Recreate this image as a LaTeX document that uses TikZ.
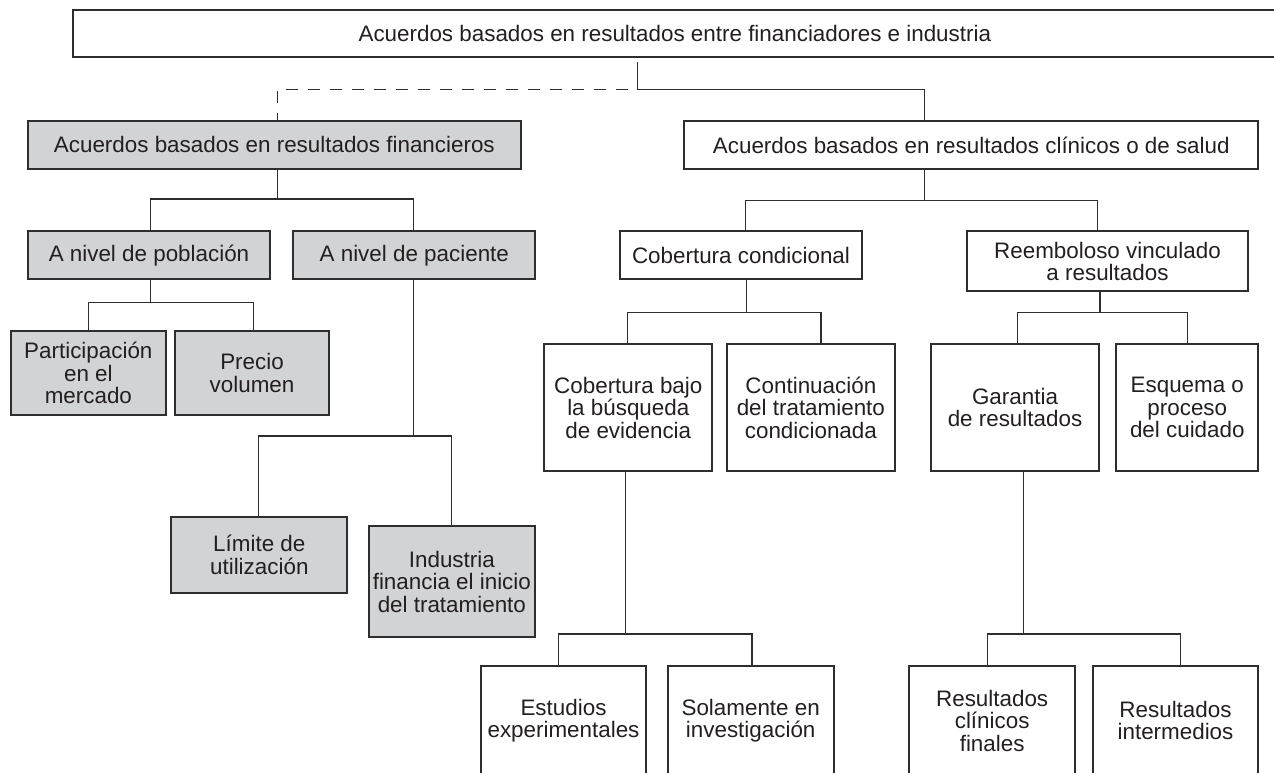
\documentclass[tikz,border=0pt]{standalone}
\usepackage{fontspec}
\setmainfont{Liberation Sans}
\usetikzlibrary{calc}
\definecolor{boxgray}{HTML}{D1D3D4}
\definecolor{ink}{HTML}{231F20}
\definecolor{linec}{HTML}{2E2E2E}
\begin{document}
\begin{tikzpicture}[x=1pt,y=-1pt,
  bx/.style={draw=linec, line width=1.8pt, rectangle, inner sep=0pt, align=center,
             text=ink, font=\fontsize{22.4}{22.5}\selectfont},
  gbx/.style={bx, fill=boxgray},
  wh/.style 2 args={minimum width=#1pt, minimum height=#2pt},
  ln/.style={draw=linec, line width=1.4pt}]
\useasboundingbox (0,0) rectangle (1274,772);
\clip (0,0) rectangle (1274,772);

% nodes
\node[bx, wh={1204.3}{47.3}] (top) at (674.85,33.65) {Acuerdos basados en resultados entre financiadores e industria};
\node[gbx, wh={492.7}{48}] (fin) at (274.35,144.7) {Acuerdos basados en resultados financieros};
\node[bx, wh={574}{48.6}] (clin) at (971.3,145) {Acuerdos basados en resultados clínicos o de salud};
\node[gbx, wh={242}{48}] (pob) at (149,255.3) {A nivel de población};
\node[gbx, wh={242}{48}] (pac) at (414.3,255.3) {A nivel de paciente};
\node[bx, wh={242}{48}] (cob) at (741,255.3) {Cobertura condicional};
\node[bx, wh={281.6}{60}] (reemb) at (1107.5,261.3) {Reemboloso vinculado\\a resultados};
\node[gbx, wh={154.7}{84.6}] (part) at (88.35,373) {Participación\\en el\\mercado};
\node[gbx, wh={154.6}{84.6}] (precio) at (252,373) {Precio\\volumen};
\node[bx, wh={168}{127.3}] (cobb) at (628.3,407.65) {Cobertura bajo\\la búsqueda\\de evidencia};
\node[bx, wh={168.3}{127.3}] (cont) at (810.85,407.65) {Continuación\\del tratamiento\\condicionada};
\node[bx, wh={168}{127.3}] (gar) at (1015,407.65) {Garantia\\de resultados};
\node[bx, wh={142}{127.3}] (esq) at (1187.3,407.65) {Esquema o\\proceso\\del cuidado};
\node[gbx, wh={176}{76.3}] (lim) at (259.3,554.85) {Límite de\\utilización};
\node[gbx, wh={166.3}{111}] (ind) at (451.85,581.8) {Industria\\financia el inicio\\del tratamiento};
\node[bx, wh={165.6}{109}] (est) at (563.5,720.5) {Estudios\\experimentales};
\node[bx, wh={166}{109}] (sol) at (750.7,720.5) {Solamente en\\investigación};
\node[bx, wh={165.7}{109}] (rcf) at (992.15,720.5) {Resultados\\clínicos\\finales};
\node[bx, wh={165.6}{109}] (rint) at (1175.5,720.5) {Resultados\\intermedios};

% top level connectors
\coordinate (jT) at (637.7,89.3);
\coordinate (jC) at (924.3,89.3);
\coordinate (jF) at (277.3,89.3);
\draw[ln] ($(top.south -| jT)+(0,3.7)$) -- (jT) -- (jC) -- (clin.north -| jC);
\draw[ln, dash pattern=on 12pt off 10pt, dash phase=5pt] (fin.north -| jF) -- (jF) -- (jT);

% financieros
\coordinate (bF) at (277.3,199);
\coordinate (bF1) at (150.3,199);
\coordinate (bF2) at (413.3,199);
\draw[ln] (fin.south -| bF) -- (bF);
\draw[ln] (pob.north -| bF1) -- (bF1) -- (bF2) -- (pac.north -| bF2);

% clinicos
\coordinate (bC) at (924.3,200.3);
\coordinate (bC1) at (745.7,200.3);
\coordinate (bC2) at (1097.3,200.3);
\draw[ln] (clin.south -| bC) -- (bC);
\draw[ln] (cob.north -| bC1) -- (bC1) -- (bC2) -- (reemb.north -| bC2);

% poblacion
\coordinate (bP) at (150.3,302.7);
\coordinate (bP1) at (88.3,302.7);
\coordinate (bP2) at (253.3,302.7);
\draw[ln] (pob.south -| bP) -- (bP);
\draw[ln] (part.north -| bP1) -- (bP1) -- (bP2) -- (precio.north -| bP2);

% paciente
\coordinate (bQ) at (413.3,436);
\coordinate (bQ1) at (258.3,436);
\coordinate (bQ2) at (451.7,436);
\draw[ln] (pac.south -| bQ) -- (bQ);
\draw[ln] (lim.north -| bQ1) -- (bQ1) -- (bQ2) -- (ind.north -| bQ2);

% cobertura condicional
\coordinate (bK) at (746.7,312.3);
\coordinate (bK1) at (627.7,312.3);
\coordinate (bK2) at (821,312.3);
\draw[ln] (cob.south -| bK) -- (bK);
\draw[ln] (cobb.north -| bK1) -- (bK1) -- (bK2) -- (cont.north -| bK2);

% reembolso
\coordinate (bR) at (1100,312.3);
\coordinate (bR1) at (1017.7,312.3);
\coordinate (bR2) at (1187.7,312.3);
\draw[ln] (reemb.south -| bR) -- (bR);
\draw[ln] (gar.north -| bR1) -- (bR1) -- (bR2) -- (esq.north -| bR2);

% cobertura bajo
\coordinate (bB) at (625.3,634);
\coordinate (bB1) at (558.7,634);
\coordinate (bB2) at (752,634);
\draw[ln] (cobb.south -| bB) -- (bB);
\draw[ln] (est.north -| bB1) -- (bB1) -- (bB2) -- (sol.north -| bB2);

% garantia
\coordinate (bG) at (1023.3,634);
\coordinate (bG1) at (987.3,634);
\coordinate (bG2) at (1180.7,634);
\draw[ln] (gar.south -| bG) -- (bG);
\draw[ln] (rcf.north -| bG1) -- (bG1) -- (bG2) -- (rint.north -| bG2);
\end{tikzpicture}
\end{document}
